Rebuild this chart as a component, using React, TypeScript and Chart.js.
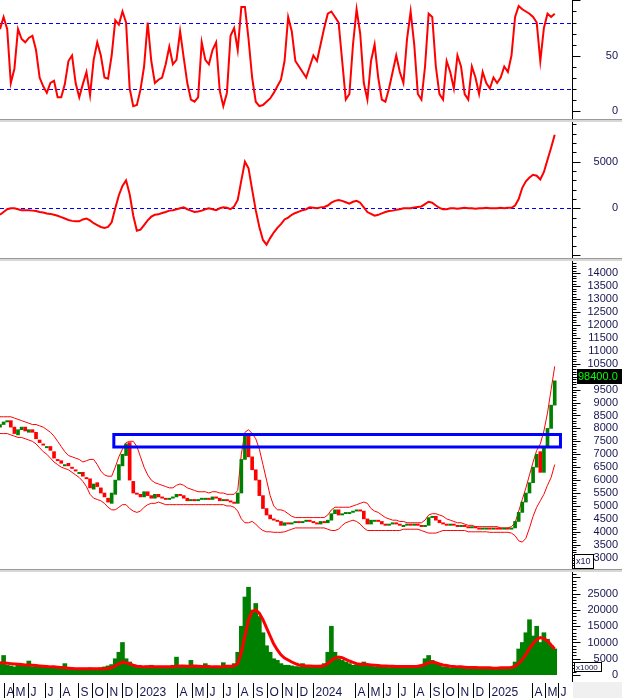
import React, { useEffect, useRef } from 'react';
import { Chart, registerables } from 'chart.js';

Chart.register(...registerables);

// ---------- data (one sample per 5 trading days) ----------
const STEP = 5;
const X_MAX = 794;

const closes = [
  8150, 8250, 8300, 8050, 7800, 7950, 8050, 7900, 7950, 7850,
  7600, 7450, 7350, 7300, 7150, 6850, 6750, 6650, 6600, 6550,
  6450, 6350, 6300, 6150, 6050, 5700, 5850, 5750, 5500, 5350,
  5150, 5500, 6000, 6600, 7000, 7400, 6000, 5500, 5450, 5350,
  5550, 5400, 5300, 5450, 5350, 5300, 5250, 5300, 5350, 5450,
  5400, 5300, 5200, 5250, 5200, 5250, 5300, 5300, 5250, 5350,
  5300, 5200, 5250, 5200, 5150, 5100, 5500, 6800, 7700, 6900,
  6400, 6000, 5400, 4900, 4650, 4500, 4450, 4400, 4250, 4350,
  4300, 4350, 4400, 4350, 4400, 4450, 4400, 4350, 4300, 4400,
  4350, 4450, 4700, 4850, 4650, 4700, 4750, 4750, 4800, 4850,
  4800, 4500, 4300, 4450, 4450, 4400, 4300, 4250, 4300, 4350,
  4300, 4250, 4250, 4300, 4250, 4300, 4250, 4200, 4250, 4550,
  4600, 4450, 4350, 4300, 4250, 4300, 4250, 4200, 4250, 4200,
  4150, 4200, 4150, 4100, 4150, 4150, 4100, 4150, 4100, 4100,
  4150, 4100, 4150, 4400, 4750, 5150, 5500, 5900, 6500, 7000,
  6300, 7300, 8000, 8900, 9840,
];

const opens = [
  8050, 8150, 8250, 8300, 8050, 7750, 7950, 8050, 7850, 7950,
  7850, 7550, 7400, 7250, 7300, 7100, 6800, 6750, 6550, 6650,
  6500, 6400, 6250, 6300, 6100, 6050, 5650, 5900, 5700, 5500,
  5300, 5100, 5450, 6000, 6550, 6950, 7450, 5950, 5500, 5450,
  5350, 5550, 5400, 5300, 5450, 5350, 5300, 5250, 5300, 5350,
  5450, 5400, 5300, 5200, 5250, 5200, 5250, 5250, 5300, 5250,
  5350, 5300, 5200, 5250, 5200, 5150, 5100, 5500, 6800, 7750,
  6900, 6400, 6000, 5400, 4900, 4650, 4500, 4450, 4400, 4250,
  4350, 4300, 4350, 4400, 4350, 4400, 4450, 4400, 4350, 4300,
  4400, 4350, 4450, 4700, 4850, 4650, 4700, 4700, 4750, 4800,
  4850, 4800, 4500, 4300, 4400, 4450, 4400, 4300, 4250, 4300,
  4350, 4300, 4200, 4250, 4300, 4250, 4300, 4250, 4200, 4250,
  4550, 4600, 4450, 4350, 4300, 4250, 4300, 4250, 4200, 4250,
  4200, 4150, 4200, 4150, 4100, 4100, 4150, 4100, 4150, 4150,
  4100, 4150, 4100, 4150, 4400, 4750, 5150, 5500, 5900, 6500,
  7100, 6300, 7300, 8000, 8900,
];

const upperBand = [
  8450, 8450, 8450, 8450, 8400, 8350, 8300, 8250, 8200, 8150,
  8150, 8100, 8050, 7950, 7850, 7700, 7500, 7300, 7100, 6950,
  6900, 6850, 6800, 6700, 6750, 6800, 6800, 6600, 6350, 6200,
  6150, 6150, 6500, 6900, 7200, 7450, 7500, 7500, 7300, 6900,
  6500, 6200, 6000, 5900, 5850, 5800, 5750, 5700, 5700, 5800,
  5850, 5800, 5700, 5650, 5600, 5550, 5550, 5550, 5500, 5550,
  5550, 5500, 5500, 5450, 5450, 5450, 5600, 7000, 7850, 7950,
  7800, 7600, 7200, 6600, 6000, 5400, 5000, 4850, 4850, 4800,
  4700, 4600, 4550, 4550, 4550, 4550, 4550, 4550, 4550, 4550,
  4550, 4650, 4850, 4950, 4950, 4950, 4950, 4950, 5000, 5050,
  5100, 5150, 5100, 4900, 4800, 4750, 4650, 4550, 4500, 4450,
  4450, 4400, 4400, 4350, 4350, 4350, 4350, 4350, 4450, 4650,
  4700, 4700, 4650, 4600, 4500, 4450, 4400, 4350, 4350, 4300,
  4250, 4250, 4200, 4200, 4200, 4200, 4200, 4200, 4200, 4150,
  4150, 4150, 4200, 4350, 4800, 5250, 5700, 6200, 6700, 7150,
  7400, 7900, 8600, 9500, 10400,
];

const lowerBand = [
  7800, 7800, 7800, 7750, 7700, 7650, 7650, 7600, 7550, 7500,
  7400, 7250, 7100, 7000, 6850, 6700, 6600, 6500, 6450, 6400,
  6300, 6200, 6100, 5950, 5750, 5450, 5300, 5250, 5200, 5100,
  4950, 4850, 4850, 4950, 5050, 5050, 4900, 4800, 4750, 4800,
  4950, 5050, 5100, 5100, 5150, 5100, 5050, 5050, 5050, 5050,
  5050, 5050, 5050, 5050, 5050, 5050, 5050, 5050, 5050, 5050,
  5050, 5050, 5050, 5000, 5000, 4950, 4800, 4500, 4350, 4350,
  4400, 4300, 4150, 4050, 4000, 4000, 3980, 3980, 3980, 4000,
  4050, 4100, 4150, 4150, 4150, 4150, 4150, 4150, 4150, 4150,
  4150, 4100, 4050, 4050, 4100, 4250, 4350, 4400, 4450, 4400,
  4300, 4150, 4050, 4050, 4050, 4050, 4050, 4050, 4050, 4050,
  4050, 4050, 4100, 4100, 4100, 4100, 4100, 4050, 4000, 3950,
  3950, 3950, 4000, 4050, 4050, 4050, 4050, 4050, 4050, 4050,
  4000, 4000, 4000, 4000, 4000, 4000, 3980, 3980, 3980, 3980,
  3980, 3980, 3950, 3850, 3650, 3600, 3750, 4150, 4600, 4950,
  5200, 5450, 5800, 6100, 6600,
];

const stoch = [
  74, 85, 74, 25, 38, 74, 65, 62, 66, 68,
  55, 30, 22, 16, 25, 27, 12, 12, 24, 45,
  50, 25, 12, 24, 35, 14, 46, 62, 50, 30,
  29, 50, 82, 78, 90, 80, 20, 4, 5, 19,
  40, 80, 45, 25, 28, 30, 42, 58, 42, 46,
  72, 48, 25, 10, 8, 12, 62, 46, 42, 55,
  62, 18, 4, 16, 68, 75, 55, 94, 94, 65,
  30, 8, 4, 5, 8, 11, 16, 22, 28, 45,
  85, 72, 45, 40, 35, 30, 40, 50, 45, 60,
  75, 88, 90, 85, 80, 45, 10, 15, 60, 92,
  70, 25, 10, 45, 60, 30, 10, 8, 20, 35,
  50, 35, 25, 65, 90, 60, 15, 10, 40, 88,
  85, 40, 15, 10, 45, 35, 20, 50, 40, 15,
  10, 40, 30, 15, 35, 25, 20, 30, 25, 30,
  40, 35, 50, 85, 95, 92, 90, 88, 85, 80,
  45, 75, 88, 85, 88,
];
const stochLevels = [20, 80];
const stochTickLabels = [0, 50];

const macd = [
  -700, -400, -100, 0, 0, -100, -200, -200, -200, -250,
  -300, -400, -450, -550, -600, -700, -800, -950, -1100, -1250,
  -1350, -1400, -1400, -1200, -1100, -1300, -1600, -1800, -2000, -2100,
  -2000, -1500, 0, 1400, 2400, 3000, 1500, -800, -2400, -2300,
  -1800, -1300, -900, -700, -650, -500, -400, -250, -200, -100,
  0, 100, -100, -250, -400, -350, -250, -100, 0, -100,
  -200, 0, 100, 50, -100, 200, 900, 3000, 5000, 4300,
  2000, -200, -2000, -3400, -3900, -3200, -2600, -2100, -1700, -1200,
  -1000, -700, -500, -350, -200, -100, 100, 50, 0, 100,
  150, 300, 600, 800, 900, 800, 650, 500, 700, 800,
  600, 100, -400, -600, -800, -700, -550, -400, -300, -250,
  -150, -100, 0, 0, 0, 100, 150, 200, 450, 700,
  600, 300, 50, -100, -100, 0, 0, -50, 0, 50,
  0, 0, -50, 0, 0, 50, 0, 0, 0, 50,
  0, 50, 50, 300, 1000, 2200, 2900, 3300, 3600, 3500,
  3100, 3900, 5200, 6500, 7900,
];
const macdLevels = [0];
const macdTickLabels = [0, 5000];

const volume = [
  3500, 6000, 3000, 2800, 2500, 3000, 2800, 3200, 4300, 2500,
  2600, 2400, 2500, 2600, 2200, 2400, 2200, 2300, 3500, 2000,
  1800, 1800, 1900, 1700, 2000, 2200, 1900, 1800, 2200, 2500,
  2800, 3200, 5000, 7000, 10000, 5000, 4000, 3000, 2800, 2600,
  2400, 2800, 3000, 2500, 2400, 2600, 2300, 2500, 3000, 5500,
  2800, 2600, 2700, 4500, 3000, 2600, 2500, 3500, 2400, 2200,
  2400, 2500, 3800, 2600, 2800, 3500, 7000, 15000, 24000, 27000,
  20000, 22000, 18000, 13000, 9000, 7000, 5000, 4500, 3500, 3000,
  3000, 2800, 2600, 2500, 3500, 2800, 2600, 2500, 2400, 3000,
  3500, 7000, 15000, 7000, 5000, 4500, 4000, 3500, 3000, 3200,
  3500, 4000, 3000, 2800, 2500, 2600, 2700, 2400, 2300, 2500,
  2400, 2600, 2200, 2400, 2500, 2700, 3000, 2800, 5000, 6000,
  4500, 3500, 3000, 2500, 2400, 2200, 2500, 2300, 2400, 2200,
  2000, 2200, 2100, 2000, 2200, 1900, 2000, 2100, 2000, 2200,
  2100, 2200, 2500, 4000, 8000, 10000, 13000, 17000, 12000, 15000,
  10000, 13000, 11000, 9000, 8000,
];

const volumeMA = [
  3800, 3700, 3600, 3500, 3400, 3300, 3200, 3100, 3100, 3000,
  2900, 2800, 2700, 2600, 2500, 2500, 2400, 2300, 2200, 2100,
  2000, 1900, 1900, 1900, 1900, 1900, 1900, 1900, 1900, 1900,
  2000, 2300, 2800, 3500, 3900, 3800, 3400, 3000, 2700, 2600,
  2500, 2500, 2500, 2500, 2500, 2500, 2500, 2500, 2500, 2700,
  2800, 2800, 2700, 2700, 2800, 2700, 2600, 2600, 2600, 2500,
  2500, 2500, 2600, 2700, 2700, 2800, 3500, 7000, 12000, 17000,
  19500, 20000, 19000, 17000, 14500, 12000, 9500, 7700, 6200, 5200,
  4600, 4000, 3500, 3100, 2900, 2800, 2800, 2700, 2700, 2700,
  2900, 3500, 4500, 5200, 5500, 5300, 4800, 4300, 3900, 3500,
  3300, 3300, 3200, 3100, 3000, 2900, 2800, 2800, 2700, 2700,
  2600, 2600, 2600, 2600, 2600, 2600, 2700, 2900, 3300, 3800,
  4000, 3800, 3400, 3100, 2900, 2700, 2600, 2500, 2500, 2400,
  2300, 2300, 2300, 2200, 2200, 2200, 2200, 2100, 2100, 2200,
  2200, 2200, 2300, 2700, 3600, 4800, 6300, 8200, 9700, 11000,
  11500, 11200, 10500, 9200, 8000,
];

const priceTickLabels = [
  3000, 3500, 4000, 4500, 5000, 5500, 6000, 6500, 7000, 7500, 8000,
  8500, 9000, 9500, 10000, 10500, 11000, 11500, 12000, 12500, 13000,
  13500, 14000,
];
const volumeTickLabels = [0, 5000, 10000, 15000, 20000, 25000];

const monthLabels = [
  'A', 'M', 'J', 'J', 'A', 'S', 'O', 'N', 'D', '2023',
  'A', 'M', 'J', 'J', 'A', 'S', 'O', 'N', 'D', '2024',
  'A', 'M', 'J', 'J', 'A', 'S', 'O', 'N', 'D', '2025',
  'A', 'M', 'J',
];
const monthStarts = [
  5, 18, 39, 62, 83, 108, 128, 149, 169, 190,
  246, 267, 287, 310, 331, 351, 371, 392, 412, 435,
  493, 511, 532, 553, 574, 597, 615, 636, 657, 679,
  738, 757, 775,
];

const zoneDays = [158, 778];
const zonePrices = [7280, 7760];
const lastPriceText = '98400.0';

// ---------- styles ----------
const GREEN = '#008000';
const RED = '#ff0000';
const BLUE = '#0000ff';
const LABEL_COLOR = '#141450';
const Y_FONT = '11px "Liberation Sans", Arial, sans-serif';
const X_FONT = '12px "Liberation Sans", Arial, sans-serif';
const AXIS_W = 50;

const dayOf = (i: number) => i * STEP;
const pts = (arr: number[]) => arr.map((v, i) => ({ x: dayOf(i), y: v }));

function rightAxis(o: { minor: number; major: number; labels: number[]; bottomGap?: number }) {
  return {
    id: 'rightAxis',
    afterDraw(chart: any) {
      const { ctx, chartArea } = chart;
      const y = chart.scales.y;
      const ax = chartArea.right + 0.5;
      ctx.save();
      ctx.strokeStyle = '#000';
      ctx.lineWidth = 1;
      ctx.beginPath();
      ctx.moveTo(ax, 0);
      ctx.lineTo(ax, chart.height - (o.bottomGap || 0));
      const start = Math.ceil(y.min / o.minor) * o.minor;
      for (let v = start; v <= y.max + 1e-9; v += o.minor) {
        const py = Math.round(y.getPixelForValue(v)) + 0.5;
        const isMajor = Math.abs(Math.round(v / o.major) * o.major - v) < 1e-6;
        ctx.moveTo(ax, py);
        ctx.lineTo(ax + (isMajor ? 8 : 4), py);
      }
      ctx.stroke();
      ctx.fillStyle = LABEL_COLOR;
      ctx.font = Y_FONT;
      ctx.textAlign = 'right';
      ctx.textBaseline = 'middle';
      o.labels.forEach((v) => {
        const py = y.getPixelForValue(v);
        if (py > 4 && py < chart.height - 2) ctx.fillText(String(v), 618, py);
      });
      ctx.restore();
    },
  };
}

function levelLines(levels: number[]) {
  return {
    id: 'levelLines',
    beforeDatasetsDraw(chart: any) {
      const { ctx, chartArea } = chart;
      const y = chart.scales.y;
      ctx.save();
      ctx.strokeStyle = BLUE;
      ctx.lineWidth = 1;
      ctx.setLineDash([4, 3]);
      levels.forEach((lv) => {
        const py = Math.round(y.getPixelForValue(lv)) + 0.5;
        ctx.beginPath();
        ctx.moveTo(chartArea.left, py);
        ctx.lineTo(chartArea.right, py);
        ctx.stroke();
      });
      ctx.restore();
    },
  };
}

function unitBox(text: string, w: number, h: number, fromBottom: number, font: string) {
  return {
    id: 'unitBox',
    afterDraw(chart: any) {
      const { ctx, chartArea } = chart;
      const x0 = chartArea.right + 2.5;
      const y0 = chartArea.bottom - fromBottom + 0.5;
      ctx.save();
      ctx.fillStyle = '#fff';
      ctx.fillRect(x0, y0, w, h);
      ctx.strokeStyle = '#000';
      ctx.lineWidth = 1;
      ctx.strokeRect(x0, y0, w, h);
      ctx.fillStyle = LABEL_COLOR;
      ctx.font = font;
      ctx.textAlign = 'left';
      ctx.textBaseline = 'middle';
      ctx.fillText(text, x0 + 1.5, y0 + h / 2 + 0.5);
      ctx.restore();
    },
  };
}

const lastPriceBox = {
  id: 'lastPriceBox',
  afterDraw(chart: any) {
    const { ctx, chartArea } = chart;
    const y = chart.scales.y;
    const py = y.getPixelForValue(closes[closes.length - 1]);
    const x0 = chartArea.right + 5;
    const top = Math.round(py) - 12;
    ctx.save();
    ctx.fillStyle = '#000';
    ctx.fillRect(x0, top, 45, 15);
    ctx.fillStyle = '#00ff00';
    ctx.font = Y_FONT;
    ctx.textAlign = 'left';
    ctx.textBaseline = 'middle';
    ctx.fillText(lastPriceText, x0 + 1, top + 8);
    ctx.restore();
  },
};

const xAxisLabels = {
  id: 'xAxisLabels',
  afterDraw(chart: any) {
    const { ctx, chartArea } = chart;
    const xs = chart.scales.x;
    const top = chart.height - 15;
    ctx.save();
    ctx.fillStyle = '#f0f0f0';
    ctx.fillRect(chartArea.right + 1, top - 1, chart.width - chartArea.right, 16);
    ctx.strokeStyle = '#000';
    ctx.lineWidth = 1;
    ctx.font = X_FONT;
    ctx.fillStyle = LABEL_COLOR;
    ctx.textAlign = 'left';
    ctx.textBaseline = 'alphabetic';
    monthStarts.forEach((d, k) => {
      const px = Math.round(xs.getPixelForValue(d)) + 0.5;
      ctx.beginPath();
      ctx.moveTo(px, top);
      ctx.lineTo(px, chart.height);
      ctx.stroke();
      ctx.fillText(monthLabels[k], px + 2, chart.height - 2);
    });
    ctx.restore();
  },
};

function baseOptions(yMin: number, yMax: number, bottomPad = 0) {
  return {
    animation: false as const,
    responsive: false,
    maintainAspectRatio: false,
    devicePixelRatio: 1,
    events: [] as any[],
    layout: { padding: { left: 0, right: AXIS_W, top: 0, bottom: bottomPad } },
    plugins: { legend: { display: false }, tooltip: { enabled: false } },
    scales: {
      x: { type: 'linear' as const, display: false, min: 0, max: X_MAX, offset: false },
      y: { type: 'linear' as const, display: false, min: yMin, max: yMax },
    },
  };
}

const Separator = ({ top }: { top: number }) => (
  <div
    style={{
      position: 'absolute',
      left: 0,
      top,
      width: 622,
      height: 2,
      borderTop: '1px solid #9a9a9a',
      background: '#d8d8d8',
    }}
  />
);

export default function App() {
  const r1 = useRef<HTMLCanvasElement>(null);
  const r2 = useRef<HTMLCanvasElement>(null);
  const r3 = useRef<HTMLCanvasElement>(null);
  const r4 = useRef<HTMLCanvasElement>(null);

  useEffect(() => {
    const charts: Chart[] = [];

    charts.push(
      new Chart(r1.current as HTMLCanvasElement, {
        type: 'line',
        data: {
          datasets: [
            {
              data: pts(stoch),
              borderColor: RED,
              borderWidth: 2,
              pointRadius: 0,
              tension: 0,
            },
          ],
        },
        options: baseOptions(-7.7, 100.45) as any,
        plugins: [levelLines(stochLevels), rightAxis({ minor: 10, major: 50, labels: stochTickLabels })],
      })
    );

    charts.push(
      new Chart(r2.current as HTMLCanvasElement, {
        type: 'line',
        data: {
          datasets: [
            {
              data: pts(macd),
              borderColor: RED,
              borderWidth: 2,
              pointRadius: 0,
              tension: 0,
            },
          ],
        },
        options: baseOptions(-5333, 9260) as any,
        plugins: [levelLines(macdLevels), rightAxis({ minor: 1000, major: 5000, labels: macdTickLabels })],
      })
    );

    const [z0, z1] = zoneDays;
    const [p0, p1] = zonePrices;
    charts.push(
      new Chart(r3.current as HTMLCanvasElement, {
        type: 'bar',
        data: {
          datasets: [
            {
              type: 'line',
              data: [
                { x: z0, y: p0 },
                { x: z0, y: p1 },
                { x: z1, y: p1 },
                { x: z1, y: p0 },
                { x: z0, y: p0 },
              ],
              borderColor: BLUE,
              borderWidth: 3,
              borderJoinStyle: 'miter',
              borderCapStyle: 'square',
              pointRadius: 0,
              tension: 0,
              order: 0,
            } as any,
            {
              type: 'bar',
              data: closes.map((c, i) => ({ x: dayOf(i), y: [opens[i], c] })),
              backgroundColor: closes.map((c, i) => (c >= opens[i] ? GREEN : RED)),
              barThickness: 3,
              minBarLength: 1,
              order: 1,
            } as any,
            {
              type: 'line',
              data: pts(upperBand),
              borderColor: RED,
              borderWidth: 1,
              pointRadius: 0,
              tension: 0,
              order: 2,
            } as any,
            {
              type: 'line',
              data: pts(lowerBand),
              borderColor: RED,
              borderWidth: 1,
              pointRadius: 0,
              tension: 0,
              order: 2,
            } as any,
          ],
        },
        options: baseOptions(2561, 14476) as any,
        plugins: [
          rightAxis({ minor: 100, major: 500, labels: priceTickLabels }),
          unitBox('x10', 19, 14, 15, '9px "Liberation Sans", Arial, sans-serif'),
          lastPriceBox,
        ],
      })
    );

    charts.push(
      new Chart(r4.current as HTMLCanvasElement, {
        type: 'bar',
        data: {
          datasets: [
            {
              type: 'line',
              data: pts(volumeMA),
              borderColor: RED,
              borderWidth: 3,
              pointRadius: 0,
              tension: 0,
              order: 0,
            } as any,
            {
              type: 'bar',
              data: pts(volume),
              backgroundColor: GREEN,
              barThickness: 4,
              order: 1,
            } as any,
          ],
        },
        options: baseOptions(0, 31690, 23) as any,
        plugins: [
          rightAxis({ minor: 1000, major: 5000, labels: volumeTickLabels, bottomGap: 16 }),
          unitBox('x1000', 27, 9, 13, '8px "Liberation Sans", Arial, sans-serif'),
          xAxisLabels,
        ],
      })
    );

    return () => charts.forEach((c) => c.destroy());
  }, []);

  const cv = (ref: any, top: number, h: number) => (
    <canvas
      ref={ref}
      width={622}
      height={h}
      style={{ position: 'absolute', left: 0, top, width: 622, height: h }}
    />
  );

  return (
    <div
      style={{
        position: 'absolute',
        left: 0,
        top: 0,
        width: 622,
        height: 698,
        background: '#fff',
        overflow: 'hidden',
      }}
    >
      {cv(r1, 0, 119)}
      <Separator top={119} />
      {cv(r2, 122, 136)}
      <Separator top={258} />
      {cv(r3, 261, 308)}
      <Separator top={569} />
      {cv(r4, 572, 126)}
    </div>
  );
}
